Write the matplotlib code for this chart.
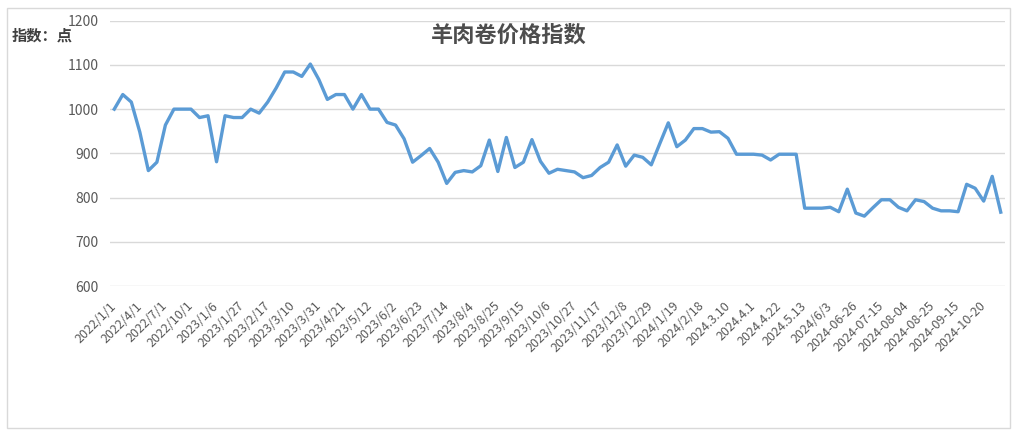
import matplotlib
matplotlib.use('Agg')
import matplotlib.pyplot as plt
from matplotlib.patches import Rectangle

plt.rcParams['font.family'] = ['Noto Sans CJK SC', 'DejaVu Sans']

# 周度指数
index_values = [
    1000, 1033, 1016, 948, 861, 880, 964, 1000, 1000, 1000,
    981, 985, 881, 985, 981, 981, 1000, 991, 1016, 1048,
    1084, 1084, 1074, 1102, 1067, 1022, 1033, 1033, 1000, 1033,
    1000, 1000, 970, 964, 933, 880, 895, 911, 880, 832,
    857, 861, 858, 872, 930, 859, 936, 868, 880, 931,
    882, 855, 864, 861, 858, 845, 850, 868, 880, 919,
    871, 896, 891, 874, 922, 969, 915, 930, 956, 956,
    948, 949, 934, 898, 898, 898, 896, 885, 898, 898,
    898, 776, 776, 776, 778, 768, 819, 765, 758, 777,
    795, 795, 778, 770, 795, 791, 776, 770, 770, 768,
    830, 821, 792, 848, 767,
]

# 每隔3期显示一个日期
tick_labels = [
    '2022/1/1', '2022/4/1', '2022/7/1', '2022/10/1', '2023/1/6', '2023/1/27',
    '2023/2/17', '2023/3/10', '2023/3/31', '2023/4/21', '2023/5/12', '2023/6/2',
    '2023/6/23', '2023/7/14', '2023/8/4', '2023/8/25', '2023/9/15', '2023/10/6',
    '2023/10/27', '2023/11/17', '2023/12/8', '2023/12/29', '2024/1/19', '2024/2/18',
    '2024.3.10', '2024.4.1', '2024.4.22', '2024.5.13', '2024/6/3', '2024-06-26',
    '2024-07-15', '2024-08-04', '2024-08-25', '2024-09-15', '2024-10-20',
]
label_step = 3

fig = plt.figure(figsize=(10.18, 4.36), dpi=100)
ax = fig.add_axes([110 / 1018, 1 - 286 / 436, 895 / 1018, (286 - 20.7) / 436])

x = list(range(len(index_values)))
ax.plot(x, index_values, color='#5B9BD5', linewidth=2.4, solid_joinstyle='round')

ax.set_xlim(-0.5, len(index_values) - 0.5)
ax.set_ylim(600, 1200)
ax.set_yticks(range(600, 1201, 100))
ax.grid(axis='y', color='#D9D9D9', linewidth=1)
ax.set_axisbelow(True)
for s in ax.spines.values():
    s.set_visible(False)

ax.set_xticks(x[::label_step])
ax.set_xticklabels(tick_labels, rotation=45, ha='right', va='center',
                   rotation_mode='anchor', fontsize=9, color='#595959')
ax.tick_params(axis='x', length=0, pad=13)
ax.tick_params(axis='y', length=0, pad=8, labelsize=10, labelcolor='#595959')

fig.text(509 / 1018, 1 - 35 / 436, '羊肉卷价格指数', ha='center', va='center',
         fontsize=16, fontweight='bold', color='#4D4D4D')
fig.text(12 / 1018, 1 - 36 / 436, '指数：点', ha='left', va='center',
         fontsize=11, fontweight='bold', color='#404040')

fig.add_artist(Rectangle((6.5 / 1018, 8 / 436), 1003 / 1018, 420 / 436,
                         transform=fig.transFigure, fill=False,
                         edgecolor='#D9D9D9', linewidth=1))

fig.savefig('out.png', dpi=100)
